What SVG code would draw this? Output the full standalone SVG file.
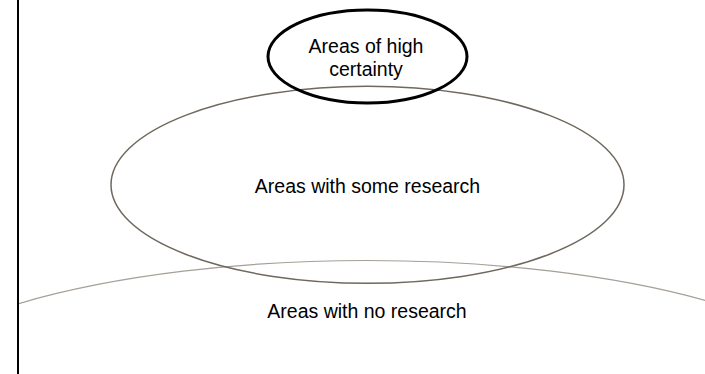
<svg xmlns="http://www.w3.org/2000/svg" width="705" height="374" viewBox="0 0 705 374">
  <style>
    .lbl { font-family: "Liberation Sans", Arial, sans-serif; font-size: 19.5px; fill: #000; text-anchor: middle; }
    .none { fill: none; }
  </style>
  <defs>
    <clipPath id="rightOfLine">
      <rect x="19" y="0" width="686" height="374"/>
    </clipPath>
  </defs>
  <rect x="0" y="0" width="705" height="374" fill="#fff"/>
  <g id="no-research">
    <ellipse class="none" cx="367.5" cy="412.5" rx="500" ry="152" stroke="#a59f97" stroke-width="1.2" clip-path="url(#rightOfLine)"/>
    <text class="lbl" x="367" y="318">Areas with no research</text>
  </g>
  <g id="some-research">
    <ellipse class="none" cx="367.5" cy="184.8" rx="256.5" ry="98.5" stroke="#6f685e" stroke-width="1.5"/>
    <text class="lbl" x="367.5" y="193">Areas with some research</text>
  </g>
  <g id="high-certainty">
    <ellipse class="none" cx="367.5" cy="56.5" rx="99.5" ry="46.5" stroke="#000" stroke-width="3"/>
    <text class="lbl" x="366" y="53">Areas of high</text>
    <text class="lbl" x="366" y="76">certainty</text>
  </g>
  <g id="border">
    <line x1="18" y1="0" x2="18" y2="374" stroke="#000" stroke-width="2"/>
  </g>
  <g id="connectors"/>
</svg>
